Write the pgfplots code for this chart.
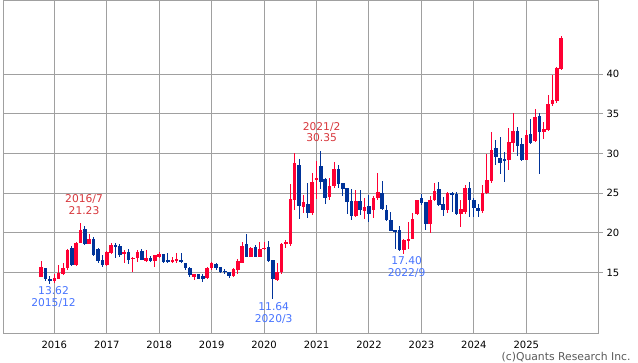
\documentclass[border=0pt]{standalone}
\usepackage{fontspec}
\setmainfont{DejaVu Sans}
\usepackage{pgfplots}
\usepackage{pgfplotstable}
\usetikzlibrary{calc}
\pgfplotsset{compat=1.18}
\definecolor{upc}{RGB}{255,0,51}
\definecolor{dnc}{RGB}{0,51,153}
\definecolor{gridc}{RGB}{160,160,160}
\definecolor{annr}{RGB}{215,55,60}
\definecolor{annb}{RGB}{70,115,255}
\definecolor{wm}{RGB}{90,90,90}
\pgfplotstableread{
m O H L C
-3 14.50 16.47 14.41 15.67
-2 15.55 15.60 14.00 14.16
-1 14.25 14.60 13.62 13.95
0 13.90 14.90 13.75 14.30
1 14.25 16.00 14.20 15.00
2 14.80 16.25 14.70 15.55
3 15.55 18.00 15.40 17.85
4 18.05 18.30 15.90 15.95
5 15.95 18.90 15.90 18.80
6 18.80 21.23 18.80 20.40
7 20.45 20.87 18.50 18.60
8 18.60 19.90 18.60 19.20
9 19.30 19.50 17.10 17.20
10 18.00 18.05 16.20 16.50
11 16.60 17.20 15.70 15.95
12 15.95 17.70 15.90 17.65
13 17.50 18.70 17.40 18.50
14 18.50 18.70 16.80 18.30
15 18.35 18.60 17.00 17.20
16 17.35 17.85 16.20 17.55
17 17.55 18.00 16.10 16.60
18 16.70 17.00 15.10 16.90
19 16.90 17.85 16.40 17.65
20 17.70 17.95 16.55 16.60
21 16.50 17.80 16.40 16.80
22 16.90 17.10 16.40 16.50
23 16.50 17.25 15.70 17.20
24 17.00 17.65 16.80 17.35
25 17.35 17.40 16.20 16.40
26 16.60 17.50 16.20 16.40
27 16.40 17.00 16.20 16.60
28 16.45 17.50 16.20 16.70
29 16.60 17.50 16.20 16.40
30 16.20 16.25 15.35 15.55
31 15.60 15.75 14.50 14.70
32 14.40 14.90 14.05 14.80
33 14.85 14.90 14.20 14.25
34 14.60 14.90 13.85 14.25
35 14.30 15.75 14.20 15.65
36 15.55 16.40 15.40 16.25
37 16.10 16.25 15.40 15.55
38 15.67 15.75 15.00 15.13
39 15.25 15.42 14.83 15.08
40 15.08 15.10 14.29 14.58
41 14.58 15.55 14.50 15.42
42 15.34 16.72 14.79 16.47
43 16.26 18.90 16.17 18.35
44 18.60 19.86 17.00 17.00
45 17.00 18.27 16.93 18.06
46 18.27 18.48 16.93 17.00
47 17.00 18.90 16.93 18.00
48 18.00 18.90 17.85 18.10
49 18.27 18.98 16.38 16.47
50 16.60 16.60 11.64 14.16
51 14.10 16.17 14.00 15.13
52 15.13 18.70 14.80 18.60
53 18.70 19.10 18.06 18.86
54 18.56 26.20 18.40 24.30
55 24.10 30.00 22.90 28.75
56 28.50 29.30 21.80 23.40
57 23.30 24.77 22.46 23.93
58 23.64 26.25 21.84 22.55
59 22.55 27.50 22.27 26.45
60 26.66 29.00 24.30 26.87
61 28.40 30.35 25.50 26.45
62 26.80 26.90 23.70 24.35
63 24.50 26.90 24.20 25.90
64 25.90 28.90 25.60 28.00
65 28.00 28.50 25.60 26.20
66 26.30 26.30 24.60 25.50
67 25.60 25.60 22.45 23.90
68 24.05 25.50 21.60 22.10
69 22.10 25.40 21.95 24.05
70 24.05 25.40 22.20 22.90
71 22.80 24.40 21.80 23.30
72 23.40 24.80 21.40 22.40
73 22.90 24.60 21.90 24.35
74 24.35 27.60 24.15 25.10
75 25.06 26.50 22.90 23.00
76 22.90 23.50 21.50 21.60
77 21.60 22.65 20.25 20.30
78 20.35 20.35 18.00 20.15
79 20.35 20.90 17.75 17.85
80 17.90 19.30 17.40 19.10
81 19.10 21.40 18.00 19.20
82 19.20 22.55 19.20 21.80
83 22.40 24.10 22.25 24.10
84 24.35 24.85 23.50 23.80
85 23.90 23.90 20.35 21.10
86 21.10 24.60 19.95 24.10
87 24.10 26.30 24.05 25.25
88 25.50 26.40 23.45 23.55
89 23.60 24.55 22.10 22.90
90 22.90 25.20 22.55 25.00
91 25.00 25.20 22.70 24.85
92 24.90 25.20 22.25 22.40
93 22.40 24.15 20.80 23.00
94 22.60 26.00 22.40 25.65
95 25.70 26.45 22.00 24.10
96 24.10 24.35 22.00 23.20
97 23.15 23.70 22.00 22.80
98 22.75 26.00 22.55 25.00
99 25.00 29.90 24.90 26.65
100 26.50 32.70 26.25 30.43
101 30.65 31.70 28.55 29.50
102 29.40 32.10 27.40 28.85
103 29.20 30.20 26.45 29.15
104 29.20 33.20 27.90 31.40
105 31.35 35.10 30.20 32.85
106 32.80 33.30 29.70 30.90
107 31.20 31.90 29.10 29.15
108 29.15 32.90 29.15 32.30
109 32.50 34.30 31.20 31.35
110 31.60 35.55 31.50 34.60
111 34.70 35.05 27.40 32.75
112 32.75 34.00 31.80 33.05
113 32.95 37.35 32.85 36.20
114 36.20 39.85 35.95 36.70
115 36.65 40.90 36.30 40.70
116 40.60 44.80 40.50 44.50
}\candles

\begin{document}
\begin{tikzpicture}[x=1pt,y=1pt]
\begin{axis}[
 scale only axis,
 width=595pt, height=332.5pt,
 xmin=-11.74, xmax=124.4, ymin=7.415, ymax=49.25,
 axis line style={gridc, line width=1pt},
 grid=major, major grid style={gridc, line width=1pt},
 xtick={0,12,24,36,48,60,72,84,96,108},
 xticklabels={2016,2017,2018,2019,2020,2021,2022,2023,2024,2025},
 ytick={15,20,25,30,35,40},
 ytick pos=right, yticklabel pos=right, xtick pos=bottom,
 tick align=outside, major tick length=5pt,
 x tick style={draw=none},
 y tick style={gridc, line width=1pt},
 ticklabel style={font=\fontsize{10}{12}\selectfont},
 /pgf/number format/assume math mode=true,
 clip=false,
]
\coordinate (bl) at (rel axis cs:0,0);
\coordinate (tr) at (rel axis cs:1,1);
% wicks
\addplot[draw=none, mark=none, forget plot,
  error bars/.cd, y dir=both, y explicit, error mark=none,
  error bar style={draw=upc, line width=1pt}]
  table[x=m, y expr={\thisrow{C}>=\thisrow{O} ? (\thisrow{H}+\thisrow{L})/2 : nan},
        y error expr={(\thisrow{H}-\thisrow{L})/2}] {\candles};
\addplot[draw=none, mark=none, forget plot,
  error bars/.cd, y dir=both, y explicit, error mark=none,
  error bar style={draw=dnc, line width=1pt}]
  table[x=m, y expr={\thisrow{C}<\thisrow{O} ? (\thisrow{H}+\thisrow{L})/2 : nan},
        y error expr={(\thisrow{H}-\thisrow{L})/2}] {\candles};
% bodies
\addplot[draw=none, mark=none, forget plot,
  error bars/.cd, y dir=both, y explicit, error mark=none,
  error bar style={draw=upc, line width=3.6pt}]
  table[x=m, y expr={\thisrow{C}>=\thisrow{O} ? (\thisrow{O}+\thisrow{C})/2 : nan},
        y error expr={max(abs(\thisrow{C}-\thisrow{O})/2,0.07)}] {\candles};
\addplot[draw=none, mark=none, forget plot,
  error bars/.cd, y dir=both, y explicit, error mark=none,
  error bar style={draw=dnc, line width=3.6pt}]
  table[x=m, y expr={\thisrow{C}<\thisrow{O} ? (\thisrow{O}+\thisrow{C})/2 : nan},
        y error expr={max(abs(\thisrow{C}-\thisrow{O})/2,0.07)}] {\candles};
% annotations
\node[annr, align=center, font=\fontsize{10.7}{12.5}\selectfont] at (axis cs:6.8,23.55) {2016/7\\21.23};
\node[annb, align=center, font=\fontsize{10.7}{11.5}\selectfont] at (axis cs:-0.18,11.97) {13.62\\2015/12};
\node[annb, align=center, font=\fontsize{10.7}{11.5}\selectfont] at (axis cs:50.2,9.9) {11.64\\2020/3};
\node[annr, align=center, font=\fontsize{10.7}{11.5}\selectfont] at (axis cs:61.17,32.67) {2021/2\\30.35};
\node[annb, align=center, font=\fontsize{10.7}{12}\selectfont] at (axis cs:80.6,15.72) {17.40\\2022/9};
\end{axis}
\node[anchor=east, wm, font=\fontsize{10.8}{12}\selectfont, inner sep=0pt] at ($(bl)+(627.7,-24)$) {(c)Quants Research Inc.};
\pgfresetboundingbox
\path[use as bounding box] ($(bl)+(-3,-29)$) rectangle ($(tr)+(40,0.5)$);
\end{tikzpicture}
\end{document}
